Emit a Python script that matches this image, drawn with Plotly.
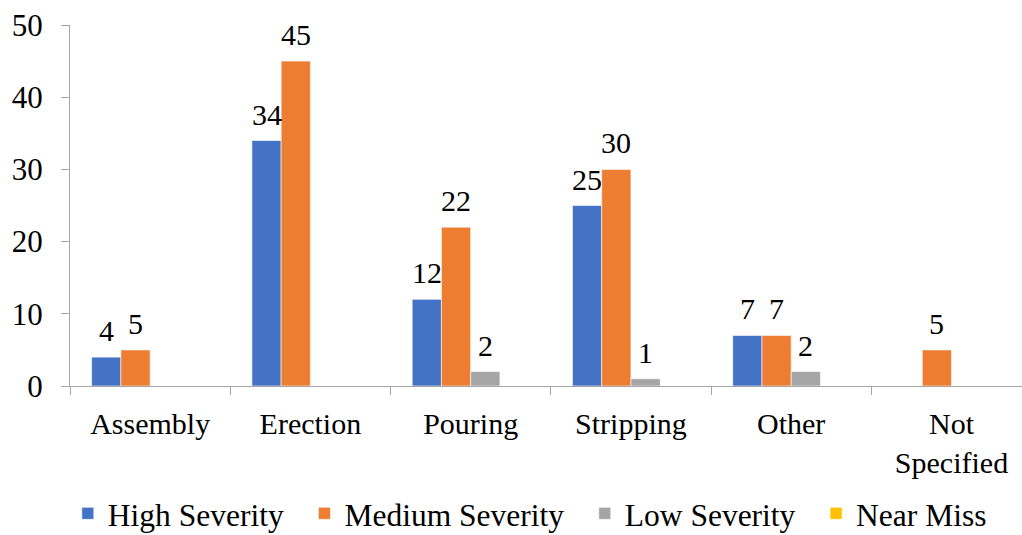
import plotly.graph_objects as go

# Incident counts by activity stage and severity
categories = ["Assembly", "Erection", "Pouring", "Stripping", "Other", "Not<br>Specified"]
high_severity = [4, 34, 12, 25, 7, None]
medium_severity = [5, 45, 22, 30, 7, 5]
low_severity = [None, None, 2, 1, 2, None]
near_miss = [None, None, None, None, None, None]

series = [
    ("High Severity", high_severity, "#4472C4"),
    ("Medium Severity", medium_severity, "#ED7D31"),
    ("Low Severity", low_severity, "#A5A5A5"),
    ("Near Miss", near_miss, "#FFC000"),
]

FONT = "Liberation Serif"
BARGAP = 0.27
NBSP = "\u00a0"

fig = go.Figure()
for k, (name, vals, color) in enumerate(series):
    # trailing non-breaking spaces widen the gap between legend entries
    label = name + (NBSP * 2 if k < len(series) - 1 else "")
    fig.add_trace(go.Bar(
        name=label, x=categories, y=vals,
        marker=dict(color=color, line=dict(color="white", width=0.6)),
    ))

# Value labels above each bar, placed at the bar's group offset
n = len(series)
bar_w = (1 - BARGAP) / n
for j, (name, vals, color) in enumerate(series):
    off = -(1 - BARGAP) / 2 + bar_w * (j + 0.5)
    for i, v in enumerate(vals):
        if v is None:
            continue
        fig.add_annotation(
            x=i + off, y=v, text=str(v), showarrow=False,
            xref="x", yref="y", yanchor="bottom", yshift=8,
            font=dict(family=FONT, size=30, color="black"),
        )

fig.update_layout(
    template="none",
    width=1022, height=535,
    margin=dict(l=70, r=0, t=25, b=149, autoexpand=False),
    paper_bgcolor="white", plot_bgcolor="white",
    barmode="group", bargap=BARGAP, bargroupgap=0,
    font=dict(family=FONT, size=30, color="black"),
    showlegend=True,
    legend=dict(
        orientation="h", x=0.483, xanchor="center", y=-0.278, yanchor="top",
        font=dict(family=FONT, size=31.5, color="black"),
        itemwidth=30, traceorder="normal",
    ),
    xaxis=dict(
        range=[-0.5, 5.44], showline=True, linecolor="#A6A6A6", linewidth=1.2,
        ticks="outside", tickson="boundaries", ticklen=8, tickcolor="#A6A6A6",
        showgrid=False, zeroline=False, ticklabelstandoff=11,
        tickfont=dict(family=FONT, size=30, color="black"),
    ),
    yaxis=dict(
        range=[0, 50], dtick=10, showline=True, linecolor="#A6A6A6", linewidth=1.2,
        ticks="outside", ticklen=8, tickcolor="#A6A6A6",
        showgrid=False, zeroline=False, ticklabelstandoff=12,
        tickfont=dict(family=FONT, size=31, color="black"),
    ),
)

fig.write_html("out.html")
